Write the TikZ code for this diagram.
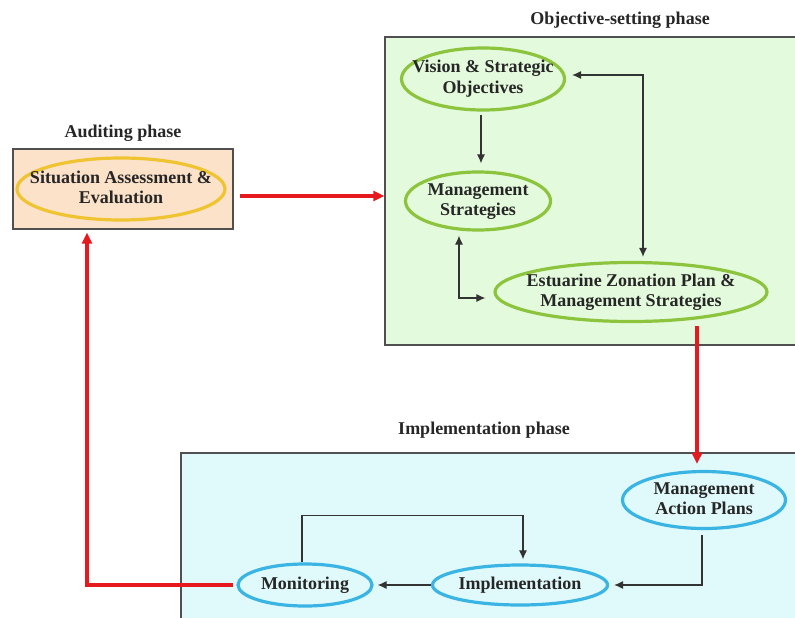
\documentclass[tikz,border=0pt]{standalone}
\usepackage{fontspec}
\setmainfont{Liberation Serif}
\usetikzlibrary{arrows.meta, shapes, positioning, calc}

\definecolor{audfill}{HTML}{FCE2C9}
\definecolor{objfill}{HTML}{E4FADC}
\definecolor{implfill}{HTML}{E0FAFC}
\definecolor{boxgray}{HTML}{505050}
\definecolor{ovalyellow}{HTML}{F0C330}
\definecolor{ovalgreen}{HTML}{8CC43E}
\definecolor{ovalblue}{HTML}{3AB4E2}
\definecolor{arrred}{HTML}{E6191E}

% text of an oval, kept out of the oval's width
\newcommand{\ovaltext}[1]{\makebox[0pt]{\begin{tabular}{@{}c@{}}#1\end{tabular}}}

\begin{document}
\begin{tikzpicture}[x=1pt,y=-1pt,
            font=\bfseries\fontsize{18}{20}\selectfont, text=black!85,
            phase/.style={rectangle, draw=boxgray, line width=1.4pt, inner sep=0},
            oval/.style={ellipse, line width=3.2pt, inner sep=0},
            redline/.style={draw=arrred, line width=3.4pt, -{Triangle[length=11pt,width=10pt]}},
            blackline/.style={draw=black!80, line width=1.1pt}]
            \clip (0,0) rectangle (795,618);

            % auditing phase
            \node [phase, fill=audfill, minimum width=220, minimum height=80] at (123,189) (audbox) {};
            \node at (123,133) (audtitle) {Auditing phase};
            \node [oval, draw=ovalyellow, minimum width=208, minimum height=62] at (121,189) (sitassess) {\ovaltext{Situation Assessment \&\\Evaluation}};

            % objective-setting phase
            \node [phase, fill=objfill, minimum width=420, minimum height=308] at (595,191) (objbox) {};
            \node at (620,20) (objtitle) {Objective-setting phase};
            \node [oval, draw=ovalgreen, minimum width=163, minimum height=62] at (483,79) (vision) {\ovaltext{Vision \& Strategic\\Objectives}};
            \node [oval, draw=ovalgreen, minimum width=145, minimum height=58] at (478,201) (mgmtstrat) {\ovaltext{Management\\Strategies}};
            \node [oval, draw=ovalgreen, minimum width=272, minimum height=59] at (631,292) (estzone) {\ovaltext{Estuarine Zonation Plan \&\\Management Strategies}};

            % implementation phase
            \node [phase, fill=implfill, minimum width=624, minimum height=172] at (493,539) (implbox) {};
            \node at (484,430) (impltitle) {Implementation phase};
            \node [oval, draw=ovalblue, minimum width=163, minimum height=57] at (704,500) (actplans) {\ovaltext{Management\\Action Plans}};
            \node [oval, draw=ovalblue, minimum width=134, minimum height=42] at (305,585) (monitor) {\ovaltext{Monitoring}};
            \node [oval, draw=ovalblue, minimum width=175, minimum height=40] at (520,585) (implement) {\ovaltext{Implementation}};

            \tikzset{>={Latex[length=9pt,width=8pt]}}
            \coordinate (audout) at ([shift={(6,7)}]audbox.east);
            \coordinate (visout) at ([shift={(-2,3)}]vision.south);
            \coordinate (estout) at ([shift={(66,3)}]estzone.south);
            \coordinate (planin) at (estout |- actplans.north);

            % black links
            \draw [blackline,->] (visout) -- ([yshift=7pt]visout |- mgmtstrat.north);
            \draw [blackline,<->] ([shift={(6,-4)}]vision.east) -| ([shift={(12,-4)}]estzone.north);
            \draw [blackline,<->] ([shift={(-19,4)}]mgmtstrat.south) |- ([shift={(-8,6)}]estzone.west);
            \draw [blackline,->] ([shift={(-2,5)}]actplans.south) |- ([xshift=5pt]implement.east);
            \draw [blackline,->] (implement.west) -- ([xshift=4pt]monitor.east);
            \draw [blackline,->] ([xshift=-3pt]monitor.north) -- ++(0,-47) -| ([shift={(3,-4)}]implement.north);

            % red links between phases
            \draw [redline] (audout) -- (audout -| objbox.west);
            \draw [redline] (estout) -- ([yshift=6pt]planin);
            \draw [redline] ([xshift=-3pt]monitor.west) -| ([shift={(-36,3)}]audbox.south);
\end{tikzpicture}
\end{document}
